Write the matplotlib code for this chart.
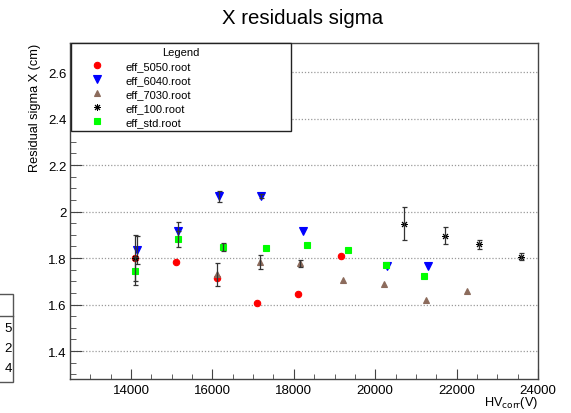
import matplotlib
matplotlib.use('Agg')
import matplotlib.pyplot as plt
import numpy as np
from matplotlib.ticker import MultipleLocator, FormatStrFormatter
from matplotlib.patches import Rectangle

plt.rcParams['font.family'] = ['Liberation Sans', 'DejaVu Sans']

# data
hv_5050 = [14100, 15100, 16100, 17100, 18100, 19150]
sig_5050 = [1.800, 1.785, 1.715, 1.605, 1.645, 1.810]
err_5050 = [0.0, 0.0, 0.0, 0.0, 0.0, 0.0]

hv_6040 = [14150, 15150, 16170, 17200, 18230, 20300, 21300]
sig_6040 = [1.835, 1.915, 2.065, 2.067, 1.915, 1.768, 1.765]
err_6040 = [0.06, 0.04, 0.025, 0.01, 0.0, 0.0, 0.0]

hv_7030 = [16100, 17160, 18150, 19210, 20210, 21260, 22250]
sig_7030 = [1.730, 1.783, 1.777, 1.705, 1.690, 1.620, 1.660]
err_7030 = [0.05, 0.03, 0.015, 0.0, 0.0, 0.0, 0.0]

hv_100 = [14100, 20700, 21720, 22560, 23590]
sig_100 = [1.800, 1.948, 1.897, 1.859, 1.806]
err_100 = [0.10, 0.07, 0.036, 0.018, 0.016]

hv_std = [14100, 15160, 16260, 17320, 18330, 19340, 20270, 21210]
sig_std = [1.743, 1.882, 1.848, 1.843, 1.856, 1.834, 1.770, 1.723]
err_std = [0.06, 0.035, 0.018, 0.0, 0.0, 0.0, 0.0, 0.0]

labels = ['eff_5050.root', 'eff_6040.root', 'eff_7030.root', 'eff_100.root', 'eff_std.root']

W, H = 571, 414
fig = plt.figure(figsize=(W / 100, H / 100), dpi=100)
ax = fig.add_axes([70 / W, 1 - 380 / H, 468 / W, 336 / H])

ecol = '#333333'
series = [
    (hv_5050, sig_5050, err_5050, 'o', '#ff0000', 4.6, 0.8),
    (hv_6040, sig_6040, err_6040, 'v', '#0000ff', 5.4, 0.8),
    (hv_7030, sig_7030, err_7030, '^', '#8c6b5c', 5.0, 0.8),
    (hv_100, sig_100, err_100, (8, 2, 0), '#000000', 5.0, 0.7),
    (hv_std, sig_std, err_std, 's', '#00ff00', 5.0, 0.8),
]
handles = []
for (x, y, e, m, c, ms, mw), lab in zip(series, labels):
    h, = ax.plot(x, y, linestyle='none', marker=m, color=c, mec=c, ms=ms, mew=mw,
                 zorder=3, label=lab)
    handles.append(h)
    x, y, e = np.array(x), np.array(y), np.array(e)
    k = e > 0
    ax.errorbar(x[k], y[k], yerr=e[k], fmt='none', ecolor=ecol, elinewidth=0.9,
                capsize=1.8, capthick=0.9, zorder=3)

ax.set_xlim(12500, 24000)
ax.set_ylim(1.28, 2.725)
ax.xaxis.set_major_locator(MultipleLocator(2000))
ax.xaxis.set_minor_locator(MultipleLocator(500))
ax.yaxis.set_major_locator(MultipleLocator(0.2))
ax.yaxis.set_minor_locator(MultipleLocator(0.05))
ax.xaxis.set_major_formatter(FormatStrFormatter('%d'))
ax.yaxis.set_major_formatter(FormatStrFormatter('%g'))
ax.tick_params(axis='both', which='both', direction='in', top=False, right=False,
               labelsize=9.5, color='#444444')
ax.tick_params(axis='x', which='major', length=7.5, pad=3.5)
ax.tick_params(axis='x', which='minor', length=3.8)
ax.tick_params(axis='y', which='major', length=8.5, pad=2.5)
ax.tick_params(axis='y', which='minor', length=4.3)
for s in ax.spines.values():
    s.set_color('#444444')
    s.set_linewidth(1.0)

ax.yaxis.grid(True, which='major', linestyle=(0, (1, 1.5)), color='#9a9a9a', linewidth=0.9)
ax.set_axisbelow(True)

ax.set_ylabel('Residual sigma X (cm)', fontsize=9.2, loc='top', labelpad=5)
ax.set_xlabel('HV$_{\\rm corr}$(V)', fontsize=9.2, loc='right', labelpad=-1)

fig.text(303 / W, 1 - 18 / H, 'X residuals sigma', fontsize=14.7, ha='center', va='center')

leg = ax.legend(handles, labels, loc='upper left', bbox_to_anchor=(0.002, 1.0, 0.47, 0.0),
                mode='expand', borderaxespad=0, fontsize=8, title='Legend', title_fontsize=8,
                frameon=True, fancybox=False, edgecolor='#222222', framealpha=1,
                borderpad=0.35, handlelength=4.0, handletextpad=0.6, labelspacing=0.36,
                numpoints=1, alignment='center')
leg.get_frame().set_linewidth(1.0)
leg.set_zorder(5)

# piece of a neighbouring stats box cut at the left edge
fig.patches.append(Rectangle((-20 / W, 1 - 383 / H), 33 / W, 88 / H, transform=fig.transFigure,
                             fill=False, edgecolor='#555555', linewidth=1.0))
fig.lines.append(plt.Line2D([0, 13 / W], [1 - 317 / H, 1 - 317 / H], transform=fig.transFigure,
                            color='#555555', linewidth=1.0))
for yy, t in zip([329, 349, 369], ['5', '2', '4']):
    fig.text(12 / W, 1 - yy / H, t, fontsize=9.5, ha='right', va='center')

fig.savefig('out.png', dpi=100)
